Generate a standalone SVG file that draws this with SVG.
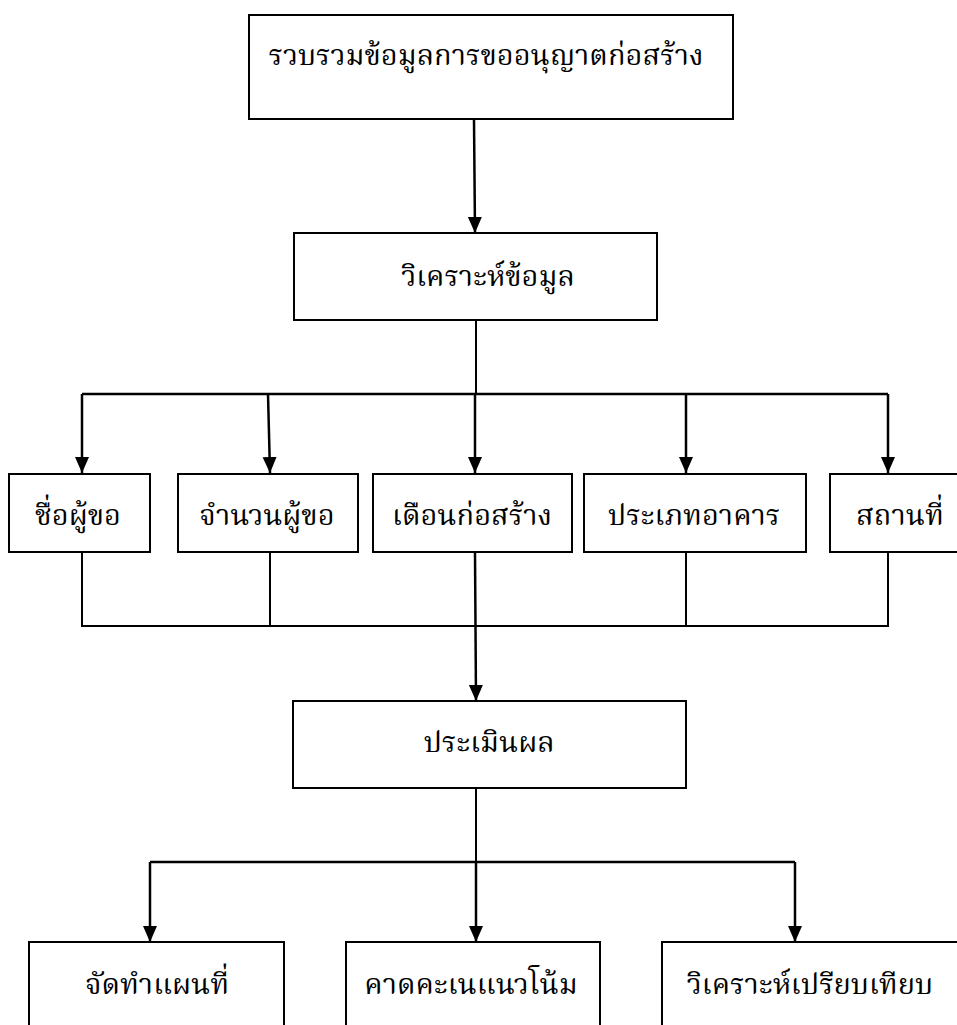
<svg xmlns="http://www.w3.org/2000/svg" width="957" height="1025" viewBox="0 0 957 1025">
<defs>
<marker id="arr" markerUnits="userSpaceOnUse" markerWidth="16" markerHeight="16" viewBox="0 0 16 16" refX="16" refY="8" orient="auto">
<path d="M0,1 L16,8 L0,15 Z" fill="#000"/>
</marker>
<style>
.box{fill:#fff;stroke:#000;stroke-width:2}
.t{font-family:"Norasi","Kinnari","Laksaman","TH Sarabun New","Noto Serif Thai","Liberation Serif",serif;font-size:29px;fill:#000;text-anchor:middle}
.ln{fill:none;stroke:#000;stroke-width:2}
.ar{fill:none;stroke:#000;stroke-width:2.5}
</style>
</defs>
<rect width="957" height="1025" fill="#fff"/>
<g id="connectors">
<line class="ar" x1="474" y1="120" x2="475" y2="233" marker-end="url(#arr)"/>
<polyline class="ln" points="476,321 476,394"/>
<polyline class="ar" points="82,394 888,394"/>
<line class="ar" x1="82" y1="394" x2="82" y2="473" marker-end="url(#arr)"/>
<line class="ar" x1="268" y1="394" x2="270" y2="473" marker-end="url(#arr)"/>
<line class="ar" x1="475" y1="394" x2="475" y2="473" marker-end="url(#arr)"/>
<line class="ar" x1="686" y1="394" x2="686" y2="473" marker-end="url(#arr)"/>
<line class="ar" x1="888" y1="394" x2="888" y2="473" marker-end="url(#arr)"/>
<polyline class="ln" points="82,553 82,626 888,626 888,553"/>
<line class="ln" x1="270" y1="553" x2="270" y2="626"/>
<line class="ln" x1="686" y1="553" x2="686" y2="626"/>
<line class="ar" x1="475" y1="553" x2="476" y2="701" marker-end="url(#arr)"/>
<polyline class="ln" points="476,789 476,862"/>
<polyline class="ar" points="150,862 795,862"/>
<line class="ar" x1="150" y1="862" x2="150" y2="942" marker-end="url(#arr)"/>
<line class="ar" x1="476" y1="862" x2="476" y2="942" marker-end="url(#arr)"/>
<line class="ar" x1="795" y1="862" x2="795" y2="942" marker-end="url(#arr)"/>
</g>
<g id="n1"><rect class="box" x="249" y="15" width="484" height="104"/><text class="t" x="486" y="65">รวบรวมข้อมูลการขออนุญาตก่อสร้าง</text></g>
<g id="n2"><rect class="box" x="294" y="233" width="363" height="87"/><text class="t" x="488" y="286">วิเคราะห์ข้อมูล</text></g>
<g id="n3"><rect class="box" x="9" y="474" width="141" height="78"/><text class="t" x="78" y="525">ชื่อผู้ขอ</text></g>
<g id="n4"><rect class="box" x="178" y="474" width="180" height="78"/><text class="t" x="267" y="525">จำนวนผู้ขอ</text></g>
<g id="n5"><rect class="box" x="373" y="474" width="199" height="78"/><text class="t" x="472" y="525">เดือนก่อสร้าง</text></g>
<g id="n6"><rect class="box" x="584" y="474" width="222" height="78"/><text class="t" x="694" y="525">ประเภทอาคาร</text></g>
<g id="n7"><rect class="box" x="830" y="474" width="140" height="78"/><text class="t" x="900" y="525">สถานที่</text></g>
<g id="n8"><rect class="box" x="293" y="701" width="393" height="87"/><text class="t" x="489" y="752">ประเมินผล</text></g>
<g id="n9"><rect class="box" x="29" y="942" width="255" height="100"/><text class="t" x="157" y="994">จัดทำแผนที่</text></g>
<g id="n10"><rect class="box" x="346" y="942" width="254" height="100"/><text class="t" x="471" y="994">คาดคะเนแนวโน้ม</text></g>
<g id="n11"><rect class="box" x="662" y="942" width="310" height="100"/><text class="t" x="810" y="994">วิเคราะห์เปรียบเทียบ</text></g>
</svg>
